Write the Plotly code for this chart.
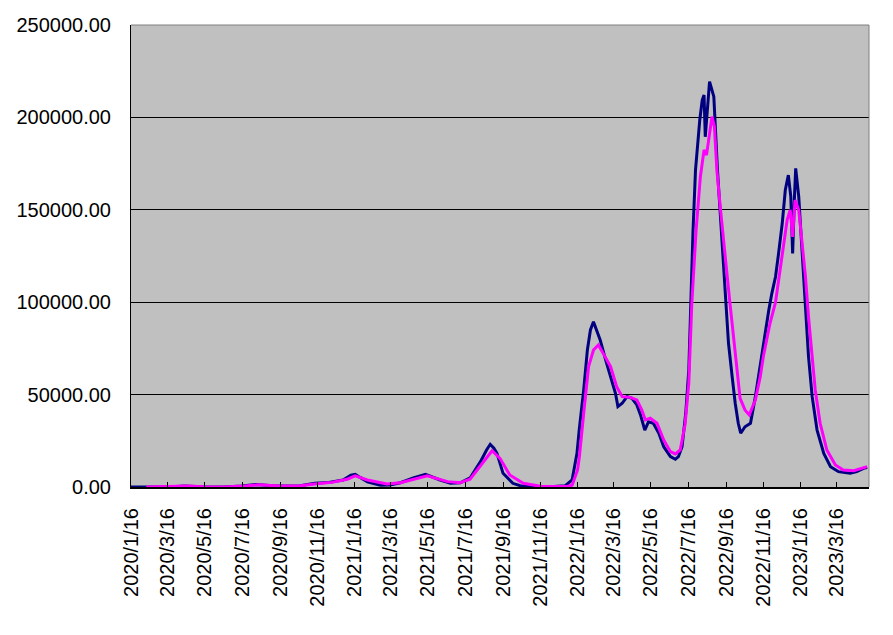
import plotly.graph_objects as go

# daily cases (navy)
blue_dates = ["2020-01-16", "2020-02-20", "2020-03-25", "2020-04-12", "2020-05-10", "2020-06-15",
              "2020-07-15", "2020-08-07", "2020-09-10", "2020-10-19", "2020-11-12", "2020-12-05",
              "2020-12-28", "2021-01-10", "2021-01-17", "2021-01-25", "2021-02-06", "2021-02-27",
              "2021-03-15", "2021-04-01", "2021-04-22", "2021-05-12", "2021-05-20", "2021-06-05",
              "2021-06-22", "2021-07-08", "2021-07-24", "2021-08-10", "2021-08-20", "2021-08-26",
              "2021-09-01", "2021-09-06", "2021-09-16", "2021-10-02", "2021-10-14", "2021-11-01",
              "2021-12-01", "2021-12-27", "2022-01-07", "2022-01-09", "2022-01-15", "2022-01-19",
              "2022-01-26", "2022-02-01", "2022-02-06", "2022-02-11", "2022-02-17", "2022-02-22",
              "2022-03-03", "2022-03-11", "2022-03-19", "2022-03-23", "2022-03-30", "2022-04-07",
              "2022-04-15", "2022-04-23", "2022-04-29", "2022-05-06", "2022-05-12", "2022-05-20",
              "2022-05-29", "2022-06-06", "2022-06-17", "2022-06-25", "2022-06-30", "2022-07-06",
              "2022-07-12", "2022-07-17", "2022-07-20", "2022-07-24", "2022-07-28", "2022-07-31",
              "2022-08-04", "2022-08-08", "2022-08-11", "2022-08-13", "2022-08-17", "2022-08-20",
              "2022-08-24", "2022-08-27", "2022-09-02", "2022-09-07", "2022-09-11", "2022-09-15",
              "2022-09-20", "2022-09-26", "2022-10-01", "2022-10-06", "2022-10-10", "2022-10-17",
              "2022-10-26", "2022-11-03", "2022-11-11", "2022-11-19", "2022-11-25", "2022-11-30",
              "2022-12-06", "2022-12-11", "2022-12-17", "2022-12-22", "2022-12-27", "2022-12-31",
              "2023-01-03", "2023-01-06", "2023-01-08", "2023-01-13", "2023-01-18", "2023-01-24",
              "2023-01-29", "2023-02-04", "2023-02-12", "2023-02-23", "2023-03-06", "2023-03-19",
              "2023-04-07", "2023-04-18", "2023-04-29", "2023-05-05"]
blue_vals = [0, 20, 150, 550, 100, 50,
             500, 1350, 550, 700, 2000, 2500,
             3800, 6400, 6900, 5200, 2800, 1000,
             1100, 2300, 4900, 6900, 5800, 3800,
             2000, 2300, 4900, 13700, 20000, 23100,
             21000, 18200, 7400, 2000, 700, 250,
             150, 700, 3800, 7400, 18200, 32000,
             52500, 74100, 85000, 89400, 84000, 79500,
             68700, 59700, 50700, 43500, 45300, 48900,
             48000, 44400, 39000, 30800, 35300, 34500,
             29100, 21800, 16400, 15000, 16400, 21800,
             39900, 63300, 99400, 139000, 171500, 184100,
             198600, 209400, 212100, 189500, 209400, 219300,
             214800, 211200, 171500, 144500, 122800, 99400,
             77800, 59700, 45300, 34500, 29100, 32600,
             34500, 48900, 66900, 83000, 95800, 104800,
             113800, 126400, 142700, 160700, 168800, 157100,
             126400, 157100, 172400, 157100, 130000, 99400,
             70500, 48900, 30800, 18200, 11000, 8300,
             7400, 8300, 10100, 10500]

# smoothed series (magenta)
pink_dates = ["2020-02-10", "2020-03-25", "2020-04-18", "2020-05-15", "2020-06-15", "2020-07-20",
              "2020-08-12", "2020-09-15", "2020-10-19", "2020-11-15", "2020-12-10", "2021-01-04",
              "2021-01-17", "2021-02-06", "2021-03-10", "2021-04-01", "2021-04-25", "2021-05-15",
              "2021-06-17", "2021-07-08", "2021-07-24", "2021-08-13", "2021-08-29", "2021-09-11",
              "2021-09-27", "2021-10-19", "2021-11-16", "2021-12-30", "2022-01-07", "2022-01-16",
              "2022-01-19", "2022-01-26", "2022-02-03", "2022-02-11", "2022-02-19", "2022-02-27",
              "2022-03-11", "2022-03-21", "2022-03-30", "2022-04-12", "2022-04-23", "2022-05-01",
              "2022-05-07", "2022-05-15", "2022-05-26", "2022-06-06", "2022-06-17", "2022-06-25",
              "2022-07-03", "2022-07-11", "2022-07-17", "2022-07-22", "2022-07-29", "2022-08-05",
              "2022-08-11", "2022-08-15", "2022-08-21", "2022-08-24", "2022-08-28", "2022-09-01",
              "2022-09-07", "2022-09-12", "2022-09-18", "2022-09-23", "2022-09-28", "2022-10-04",
              "2022-10-09", "2022-10-17", "2022-10-24", "2022-11-03", "2022-11-11", "2022-11-16",
              "2022-11-27", "2022-12-06", "2022-12-10", "2022-12-17", "2022-12-25", "2022-12-30",
              "2023-01-03", "2023-01-07", "2023-01-13", "2023-01-18", "2023-01-24", "2023-01-29",
              "2023-02-04", "2023-02-09", "2023-02-17", "2023-02-28", "2023-03-14", "2023-03-27",
              "2023-04-13", "2023-04-29", "2023-05-05"]
pink_vals = [0, 100, 500, 150, 50, 500,
             1200, 550, 650, 1700, 2500, 4200,
             6000, 3800, 1600, 2300, 4500, 6000,
             2900, 2300, 4200, 12800, 19600, 15500,
             6500, 2000, 400, 300, 1000, 9200,
             16400, 39900, 65100, 74100, 76800, 72300,
             65100, 54300, 48900, 48500, 47100, 41700,
             36300, 37200, 34500, 25400, 19100, 17900,
             20000, 34000, 56100, 99400, 139000, 167900,
             182400, 179600, 195000, 200400, 195000, 171500,
             149900, 131900, 113800, 97600, 81300, 65100,
             48000, 41700, 39000, 47000, 59700, 70500,
             88600, 100000, 109000, 124600, 144500, 149900,
             135400, 155300, 149900, 133600, 113800, 92100,
             70500, 52500, 34500, 20000, 11900, 9200,
             8800, 10700, 11000]

tick_dates = ["2020-01-16", "2020-03-16", "2020-05-16", "2020-07-16", "2020-09-16", "2020-11-16",
              "2021-01-16", "2021-03-16", "2021-05-16", "2021-07-16", "2021-09-16", "2021-11-16",
              "2022-01-16", "2022-03-16", "2022-05-16", "2022-07-16", "2022-09-16", "2022-11-16",
              "2023-01-16", "2023-03-16"]
tick_labels = ["2020/1/16", "2020/3/16", "2020/5/16", "2020/7/16", "2020/9/16", "2020/11/16",
               "2021/1/16", "2021/3/16", "2021/5/16", "2021/7/16", "2021/9/16", "2021/11/16",
               "2022/1/16", "2022/3/16", "2022/5/16", "2022/7/16", "2022/9/16", "2022/11/16",
               "2023/1/16", "2023/3/16"]

fig = go.Figure()
fig.add_trace(go.Scatter(x=blue_dates, y=blue_vals, mode="lines",
                         line=dict(color="#000080", width=3)))
fig.add_trace(go.Scatter(x=pink_dates, y=pink_vals, mode="lines",
                         line=dict(color="#FF00FF", width=3)))

# page body has an 8px margin, so the figure is a bit smaller than the window
fig.update_layout(
    width=885, height=627,
    margin=dict(l=123, r=24, t=17, b=148),
    paper_bgcolor="white", plot_bgcolor="#C0C0C0",
    showlegend=False,
    font=dict(family="Liberation Sans", size=20, color="black"),
)
fig.update_xaxes(type="date", range=["2020-01-16", "2023-05-08"], automargin=False,
                 tickvals=tick_dates, ticktext=tick_labels, tickangle=-90,
                 ticks="inside", ticklen=5, tickcolor="black",
                 showgrid=False, zeroline=False,
                 showline=True, linecolor="black", linewidth=2,
                 ticklabelstandoff=11)
fig.update_yaxes(range=[0, 250000], dtick=50000, tickformat=".2f", automargin=False,
                 ticks="inside", ticklen=6, tickcolor="black",
                 showgrid=True, gridcolor="black", gridwidth=1, zeroline=False,
                 showline=True, linecolor="black", linewidth=1,
                 ticklabelstandoff=15)
# grey frame on top and right, like the spreadsheet plot area
fig.add_shape(type="line", xref="paper", yref="paper", x0=0, x1=1, y0=1, y1=1,
              line=dict(color="#808080", width=1), layer="above")
fig.add_shape(type="line", xref="paper", yref="paper", x0=1, x1=1, y0=0, y1=1,
              line=dict(color="#808080", width=1), layer="above")

fig.write_html("out.html", config={"displayModeBar": False})
